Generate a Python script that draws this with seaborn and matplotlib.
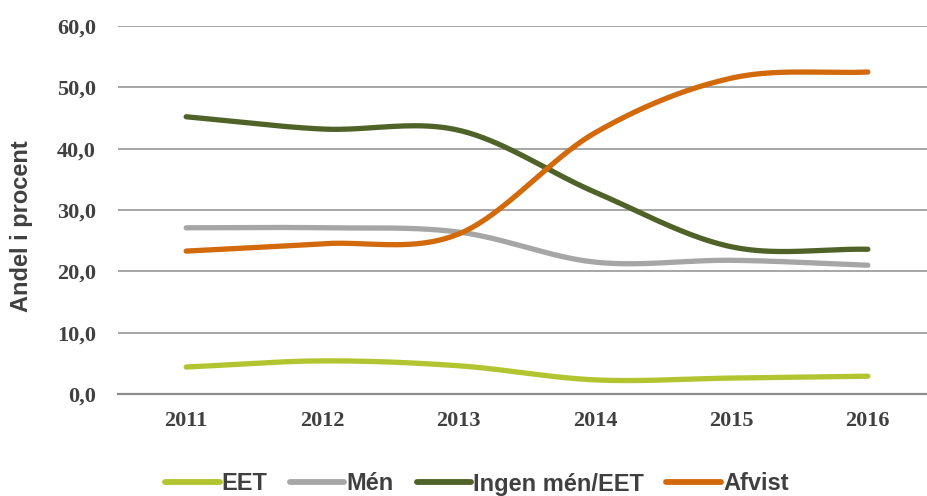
"""Andel i procent 2011-2016: EET, Mén, Ingen mén/EET, Afvist."""

import matplotlib
matplotlib.use("Agg")
import matplotlib.pyplot as plt
import numpy as np
import pandas as pd
import seaborn as sns

years = ["2011", "2012", "2013", "2014", "2015", "2016"]
eet = [4.4, 5.4, 4.6, 2.3, 2.6, 2.9]
men = [27.1, 27.1, 26.4, 21.5, 21.8, 21.0]
ingen = [45.2, 43.2, 43.0, 32.9, 24.0, 23.6]
afvist = [23.3, 24.5, 26.1, 42.6, 51.5, 52.5]

series_names = ["EET", "Mén", "Ingen mén/EET", "Afvist"]
colors = ["#b2c530", "#a6a6a6", "#4f6228", "#d2690a"]


def smooth(y, n=40):
    # Catmull-Rom curve through the points, roughly like Excel's smoothed lines
    y = np.asarray(y, dtype=float)
    x = np.arange(len(y), dtype=float)
    px = np.concatenate([[2 * x[0] - x[1]], x, [2 * x[-1] - x[-2]]])
    py = np.concatenate([[2 * y[0] - y[1]], y, [2 * y[-1] - y[-2]]])
    xs, ys = [], []
    t = np.linspace(0, 1, n, endpoint=False)
    for i in range(1, len(px) - 2):
        for arr, out in ((px, xs), (py, ys)):
            p0, p1, p2, p3 = arr[i - 1:i + 3]
            out.extend(0.5 * ((2 * p1) + (-p0 + p2) * t
                              + (2 * p0 - 5 * p1 + 4 * p2 - p3) * t ** 2
                              + (-p0 + 3 * p1 - 3 * p2 + p3) * t ** 3))
    xs.append(x[-1])
    ys.append(y[-1])
    return np.array(xs), np.array(ys)


frames = []
for name, vals in zip(series_names, [eet, men, ingen, afvist]):
    xs, ys = smooth(vals)
    frames.append(pd.DataFrame({"x": xs, "value": ys, "serie": name}))
df = pd.concat(frames, ignore_index=True)

sns.set_theme(style="white")
plt.rcParams["font.family"] = ["Liberation Serif", "DejaVu Serif"]

fig = plt.figure(figsize=(9.28, 4.96), dpi=100)
ax = fig.add_axes([118 / 928, 102 / 496, 818 / 928, 368 / 496])

sns.lineplot(data=df, x="x", y="value", hue="serie", hue_order=series_names,
             palette=colors, sort=False, linewidth=3.8, ax=ax,
             solid_capstyle="round", legend=False)

ax.set_xlim(-0.5, 5.5)
ax.set_ylim(0, 60)
ax.set_yticks(np.arange(0, 61, 10))
ax.set_yticklabels([f"{v:.1f}".replace(".", ",") for v in np.arange(0, 61, 10)])
ax.set_xticks(range(len(years)))
ax.set_xticklabels(years)
ax.grid(axis="y", color="#a6a6a6", linewidth=1.4)
ax.set_axisbelow(True)
for side in ["left", "right", "top"]:
    ax.spines[side].set_visible(False)
ax.spines["bottom"].set_color("#8c8c8c")
ax.spines["bottom"].set_linewidth(1.6)

ax.tick_params(axis="both", length=0, labelsize=16, labelcolor="#404040")
ax.tick_params(axis="y", pad=16)
ax.tick_params(axis="x", pad=12)
for lab in ax.get_xticklabels() + ax.get_yticklabels():
    lab.set_fontweight("bold")

ax.set_xlabel("")
ax.set_ylabel("Andel i procent", fontsize=17, fontweight="bold", color="#404040",
              family=["Liberation Sans", "DejaVu Sans"])
ax.yaxis.set_label_coords(-0.104, 0.457)

handles = [plt.Line2D([0], [0], color=c, linewidth=4.2, solid_capstyle="round")
           for c in colors]
leg = fig.legend(handles, series_names, loc="center",
                 bbox_to_anchor=(477 / 928, 1 - 484 / 496),
                 ncol=4, frameon=False, handlelength=2.3, handletextpad=0.1,
                 columnspacing=0.95, fontsize=17)
for txt in leg.get_texts():
    txt.set_color("#404040")
    txt.set_family(["Liberation Sans", "DejaVu Sans"])
    txt.set_fontweight("bold")

fig.savefig("out.png", dpi=100)
